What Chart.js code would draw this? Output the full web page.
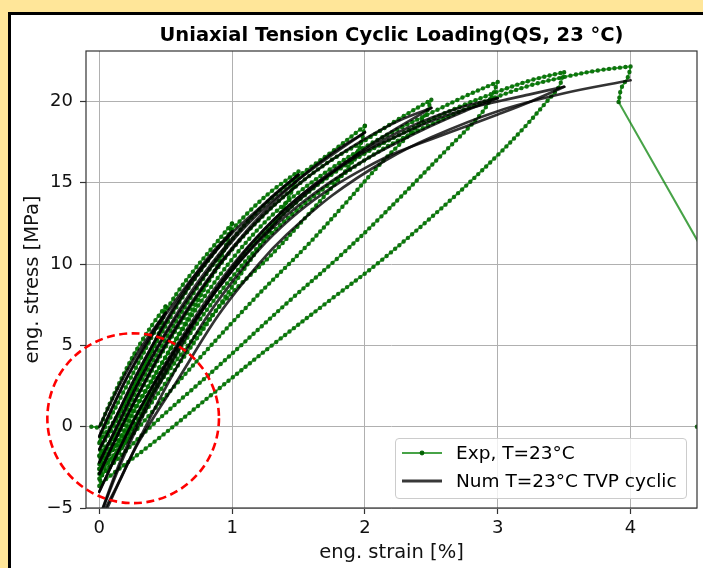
<!DOCTYPE html>
<html><head><meta charset="utf-8">
<script src="https://cdn.jsdelivr.net/npm/chart.js@4.4.1/dist/chart.umd.min.js"></script>
<style>
html,body{margin:0;padding:0;}
body{width:703px;height:568px;overflow:hidden;position:relative;background:#ffe699;font-family:"DejaVu Sans",sans-serif;}
#frame{position:absolute;left:8px;top:12px;width:760px;height:620px;background:#fff;border:3px solid #000;}
#c{position:absolute;left:0;top:0;}
#title{position:absolute;left:86px;width:611px;top:23px;height:24px;line-height:24px;text-align:center;font-weight:bold;font-size:19.5px;color:#000;white-space:nowrap;}
#legend{position:absolute;left:395px;top:438px;width:290px;height:59px;border:1px solid #cccccc;border-radius:4px;background:rgba(255,255,255,0.8);font-size:18.5px;color:#000;}
.row{position:absolute;left:0;height:26px;line-height:26px;white-space:nowrap;}
.row svg{position:absolute;left:6px;top:0;}
.row span{position:absolute;left:60px;top:0;}
</style>
</head><body>
<div id="frame"></div>
<canvas id="c" width="703" height="568"></canvas>
<div id="title">Uniaxial Tension Cyclic Loading(QS, 23 °C)</div>
<div id="legend">
  <div class="row" style="top:1px"><svg width="40" height="26"><line x1="0" y1="13" x2="40" y2="13" stroke="rgba(0,128,0,0.72)" stroke-width="2"/><circle cx="20" cy="13" r="2.4" fill="rgba(0,95,0,0.95)"/></svg><span id="lg1">Exp, T=23°C</span></div>
  <div class="row" style="top:29px"><svg width="40" height="26"><line x1="0" y1="13" x2="40" y2="13" stroke="rgba(0,0,0,0.78)" stroke-width="3"/></svg><span id="lg2">Num T=23°C TVP cyclic</span></div>
</div>
<script>
// ---------- axis ranges / ticks ----------
const xRange = [-0.1, 4.5];
const yRange = [-5, 23.1];
const xTickStep = 1;
const yTickStep = 5;
const seriesNames = ['Exp, T=23°C', 'Num T=23°C TVP cyclic'];

// ---------- experimental branches [strain %, stress MPa] ----------
const expLoad0 = [[-0.06,0],[0,0],[0.05,0.9],[0.1,1.8],[0.2,3.5],[0.3,5.0],[0.41,6.4],[0.5,7.4]];
const expUn1 = [[0.5,7.4],[0.47,6.3],[0.42,5.2],[0.33,3.6],[0.22,1.9],[0.1,0.2],[0.02,-0.7],[0,-1.0]];
const expRe1 = [[0,-1.0],[0.02,-0.4],[0.08,0.5],[0.18,2.1],[0.3,4.0],[0.42,5.9],[0.5,7.1],[0.6,8.4],[0.73,9.8],[0.85,11.0],[1.0,12.5]];
const expUn2 = [[1.0,12.5],[0.96,11.3],[0.9,10.1],[0.78,8.3],[0.62,6.0],[0.45,3.6],[0.28,1.3],[0.12,-0.6],[0.02,-1.5],[0,-1.8]];
const expRe2 = [[0,-1.8],[0.02,-1.2],[0.1,-0.1],[0.25,2.3],[0.4,4.7],[0.6,7.6],[0.8,10.0],[1.0,12.1],[1.15,13.4],[1.3,14.5],[1.5,15.7]];
const expUn3 = [[1.5,15.7],[1.45,14.5],[1.37,13.2],[1.2,11.0],[1.0,8.6],[0.75,5.6],[0.5,2.7],[0.25,-0.1],[0.03,-2.0],[0,-2.3]];
const expRe3 = [[0,-2.3],[0.02,-1.7],[0.12,-0.4],[0.3,2.5],[0.5,5.4],[0.75,8.7],[1.0,11.5],[1.25,13.7],[1.5,15.4],[1.75,16.9],[2.0,18.5]];
const expUn4 = [[2.0,18.5],[1.96,17.2],[1.88,16.0],[1.6,13.3],[1.3,10.6],[0.95,7.8],[0.5,3.2],[0.05,-2.0],[0,-2.6]];
const expRe4 = [[0,-2.6],[0.02,-2.0],[0.12,-0.8],[0.3,2.0],[0.5,4.9],[0.75,8.1],[1.0,10.9],[1.25,13.1],[1.5,14.9],[1.75,16.4],[2.0,17.6],[2.25,18.9],[2.5,20.1]];
const expUn5 = [[2.5,20.1],[2.45,19.1],[2.35,18.1],[2.12,16.2],[1.85,13.7],[1.56,11.1],[1.16,7.8],[0.6,2.8],[0.05,-2.4],[0,-2.9]];
const expRe5 = [[0,-2.9],[0.02,-2.3],[0.12,-1.2],[0.3,1.5],[0.5,4.3],[0.75,7.5],[1.0,10.3],[1.25,12.6],[1.5,14.4],[1.75,15.9],[2.0,17.2],[2.25,18.3],[2.5,19.3],[2.75,20.3],[3.0,21.2]];
const expUn6 = [[3.0,21.2],[2.95,20.2],[2.86,19.1],[2.6,16.9],[2.12,12.9],[1.8,10.4],[1.44,7.8],[0.88,3.6],[0.4,0.1],[0.04,-2.8],[0,-3.2]];
const expRe6 = [[0,-3.2],[0.02,-2.6],[0.12,-1.6],[0.3,1.0],[0.5,3.8],[0.75,6.9],[1.0,9.7],[1.25,12.0],[1.5,13.9],[1.75,15.5],[2.0,16.8],[2.25,17.9],[2.5,18.9],[2.75,19.8],[3.0,20.6],[3.25,21.3],[3.5,21.8]];
const expUn7 = [[3.5,21.8],[3.46,20.9],[3.37,20.0],[3.2,18.4],[3.0,16.7],[2.64,13.9],[2.12,10.2],[1.74,7.8],[1.3,5.0],[0.88,2.2],[0.45,-0.7],[0.04,-3.3],[0,-3.65]];
const expRe7 = [[0,-3.65],[0.02,-3.0],[0.12,-2.0],[0.3,0.6],[0.5,3.4],[0.75,6.5],[1.0,9.2],[1.25,11.5],[1.5,13.4],[1.75,15.0],[2.0,16.4],[2.25,17.6],[2.5,18.6],[2.75,19.5],[3.0,20.3],[3.25,21.0],[3.5,21.5],[3.75,21.9],[4.0,22.15]];
const expPeakDrop = [[4.0,22.15],[3.98,21.5],[3.93,20.8],[3.91,19.96]];
const expFailure = [[3.91,19.96],[5.3,0],[4.5,0]];

// ---------- numerical (TVP cyclic) branches ----------
const numLoad0 = [[0,0],[0.1,1.7],[0.2,3.3],[0.3,4.7],[0.4,5.9],[0.5,7.0]];
const numUn1 = [[0.5,7.0],[0.4,5.8],[0.3,4.4],[0.2,2.9],[0.1,1.2],[0,-0.6]];
const numRe1 = [[0,-0.6],[0.1,1.2],[0.2,2.9],[0.35,5.0],[0.5,6.9],[0.65,8.6],[0.8,10.1],[1.0,12.0]];
const numUn2 = [[1.0,12.0],[0.85,10.7],[0.7,9.1],[0.55,7.2],[0.4,5.0],[0.25,2.7],[0.12,0.5],[0,-1.4]];
const numRe2 = [[0,-1.4],[0.12,0.5],[0.25,2.7],[0.4,5.0],[0.6,7.7],[0.8,10.0],[1.0,11.9],[1.2,13.4],[1.35,14.5],[1.5,15.5]];
const numUn3 = [[1.5,15.5],[1.3,14.1],[1.1,12.5],[0.9,10.6],[0.7,8.4],[0.5,5.8],[0.3,2.8],[0.15,0.3],[0,-2.2]];
const numRe3 = [[0,-2.2],[0.15,0.3],[0.3,2.8],[0.5,5.7],[0.75,8.8],[1.0,11.4],[1.25,13.5],[1.5,15.2],[1.75,16.7],[2.0,18.1]];
const numUn4 = [[2.0,18.1],[1.75,16.8],[1.5,15.2],[1.25,13.3],[1.0,11.0],[0.75,8.3],[0.5,5.1],[0.3,2.1],[0.15,-0.3],[0,-2.9]];
const numRe4 = [[0,-2.9],[0.15,-0.3],[0.3,2.1],[0.5,5.0],[0.75,8.2],[1.0,10.9],[1.25,13.1],[1.5,14.9],[1.75,16.4],[2.0,17.7],[2.25,18.8],[2.5,19.6]];
const numUn5 = [[2.5,19.6],[2.25,18.4],[2.0,17.1],[1.75,15.6],[1.5,13.9],[1.25,11.9],[1.0,9.6],[0.75,6.9],[0.5,3.8],[0.3,1.0],[0.15,-1.4],[0,-4.0]];
const numRe5 = [[0,-4.0],[0.15,-1.4],[0.3,1.0],[0.5,3.9],[0.75,7.1],[1.0,9.9],[1.25,12.2],[1.5,14.1],[1.75,15.7],[2.0,17.0],[2.25,18.1],[2.5,19.0],[2.75,19.7],[3.0,20.2]];
const numUn6 = [[3.0,20.2],[2.75,19.4],[2.5,18.5],[2.25,17.5],[2.0,16.4],[1.75,15.1],[1.5,13.6],[1.25,11.8],[1.0,9.6],[0.75,6.9],[0.5,3.6],[0.3,0.4],[0.15,-2.3],[0,-5.6]];
const numRe6 = [[0,-5.6],[0.15,-2.5],[0.3,0.2],[0.5,3.3],[0.75,6.8],[1.0,9.8],[1.25,12.2],[1.5,14.1],[1.75,15.6],[2.0,16.9],[2.25,17.9],[2.5,18.8],[2.75,19.5],[3.0,20.0],[3.25,20.45],[3.5,20.9]];
const numUn7 = [[3.5,20.9],[3.25,20.0],[3.0,19.2],[2.64,18.1],[2.25,16.9],[2.0,15.9],[1.75,14.7],[1.5,13.2],[1.25,11.3],[1.0,8.9],[0.75,6.0],[0.5,2.4],[0.3,-0.8],[0.13,-3.7],[0.03,-5.3],[0,-6.0]];
const numRe7 = [[0,-6.0],[0.06,-5.0],[0.15,-3.4],[0.3,-0.9],[0.6,3.0],[0.9,6.9],[1.2,10.0],[1.41,11.8],[1.75,14.2],[2.16,16.4],[2.5,17.8],[3.0,19.4],[3.5,20.5],[4.0,21.3]];

// annotation: dashed red ellipse, in data units (centre, half-widths)
const focusMark = {x:0.255, y:0.52, rx:0.646, ry:5.22};

const expBeaded = [expLoad0,expUn1,expRe1,expUn2,expRe2,expUn3,expRe3,expUn4,expRe4,expUn5,expRe5,expUn6,expRe6,expUn7,expRe7,expPeakDrop];
const numCurves = [numLoad0,numUn1,numRe1,numUn2,numRe2,numUn3,numRe3,numUn4,numRe4,numUn5,numRe5,numUn6,numRe6,numUn7,numRe7];

const toXY = a => a.map(p => ({x:p[0], y:p[1]}));
const GREEN_LINE = 'rgba(0,128,0,0.72)';
const GREEN_DOT = 'rgba(0,92,0,0.9)';
const BLACK = 'rgba(0,0,0,0.8)';

const datasets = [];
numCurves.forEach(b => datasets.push({
  label: seriesNames[1], data: toXY(b), showLine: true, borderColor: BLACK, borderWidth: 2.7,
  pointRadius: 0, tension: 0.35, order: 0, borderCapStyle: 'round', borderJoinStyle: 'round'
}));
expBeaded.forEach(b => {
  datasets.push({label: seriesNames[0], data: toXY(b), showLine: true, borderColor: GREEN_LINE, borderWidth: 2,
    pointRadius: 0, tension: 0.35, order: 1});
  datasets.push({label: seriesNames[0], data: toXY(b), showLine: true, borderColor: GREEN_DOT, borderWidth: 4.4,
    borderDash: [0, 5.6], borderCapStyle: 'round', pointRadius: 0, tension: 0.35, order: 1});
});
datasets.push({label: seriesNames[0], data: toXY(expFailure), showLine: true, borderColor: GREEN_LINE, borderWidth: 2,
  pointRadius: 2.3, pointBackgroundColor: GREEN_DOT, pointBorderWidth: 0, tension: 0, order: 1});

const decor = {
  id: 'decor',
  afterDraw(chart) {
    const {ctx, chartArea: a, scales: {x, y}} = chart;
    ctx.save();
    ctx.strokeStyle = '#333';
    ctx.lineWidth = 1.2;
    ctx.strokeRect(a.left, a.top, a.right - a.left, a.bottom - a.top);
    const cx = x.getPixelForValue(focusMark.x), cy = y.getPixelForValue(focusMark.y);
    const rx = Math.abs(x.getPixelForValue(focusMark.x + focusMark.rx) - cx);
    const ry = Math.abs(y.getPixelForValue(focusMark.y + focusMark.ry) - cy);
    ctx.setLineDash([8, 4.5]);
    ctx.strokeStyle = '#ff0000';
    ctx.lineWidth = 2.6;
    ctx.beginPath();
    ctx.ellipse(cx, cy, rx, ry, 0, 0, Math.PI * 2);
    ctx.stroke();
    ctx.restore();
  }
};

const tickFont = {family: 'DejaVu Sans', size: 18};
const labelFont = {family: 'DejaVu Sans', size: 19.5, lineHeight: 1.2};
const minusFmt = v => (v < 0 ? '\u2212' + Math.abs(v) : String(v));

new Chart(document.getElementById('c'), {
  type: 'scatter',
  data: {datasets},
  options: {
    responsive: false, animation: false, devicePixelRatio: 1,
    layout: {padding: {left: 0, right: 6, top: 51, bottom: 0}},
    plugins: {legend: {display: false}, tooltip: {enabled: false}, title: {display: false}},
    scales: {
      x: {
        type: 'linear', min: xRange[0], max: xRange[1],
        afterFit: s => { s.height = 60; },
        ticks: {stepSize: xTickStep, includeBounds: false, font: tickFont, color: '#111', padding: 4, callback: minusFmt, maxRotation: 0},
        grid: {color: '#b0b0b0', lineWidth: 1, drawTicks: true, tickLength: 6, tickColor: '#333', tickWidth: 1.2},
        border: {display: false},
        title: {display: true, text: 'eng. strain [%]', font: labelFont, color: '#111', padding: {top: 0, bottom: 3.3}}
      },
      y: {
        type: 'linear', min: yRange[0], max: yRange[1],
        afterFit: s => { s.width = 86; },
        ticks: {stepSize: yTickStep, includeBounds: false, font: tickFont, color: '#111', padding: 7, callback: minusFmt},
        grid: {color: '#b0b0b0', lineWidth: 1, drawTicks: true, tickLength: 6, tickColor: '#333', tickWidth: 1.2},
        border: {display: false},
        title: {display: true, text: 'eng. stress [MPa]', font: labelFont, color: '#111', padding: {top: 21.3, bottom: 0}}
      }
    }
  },
  plugins: [decor]
});
</script>
</body></html>
